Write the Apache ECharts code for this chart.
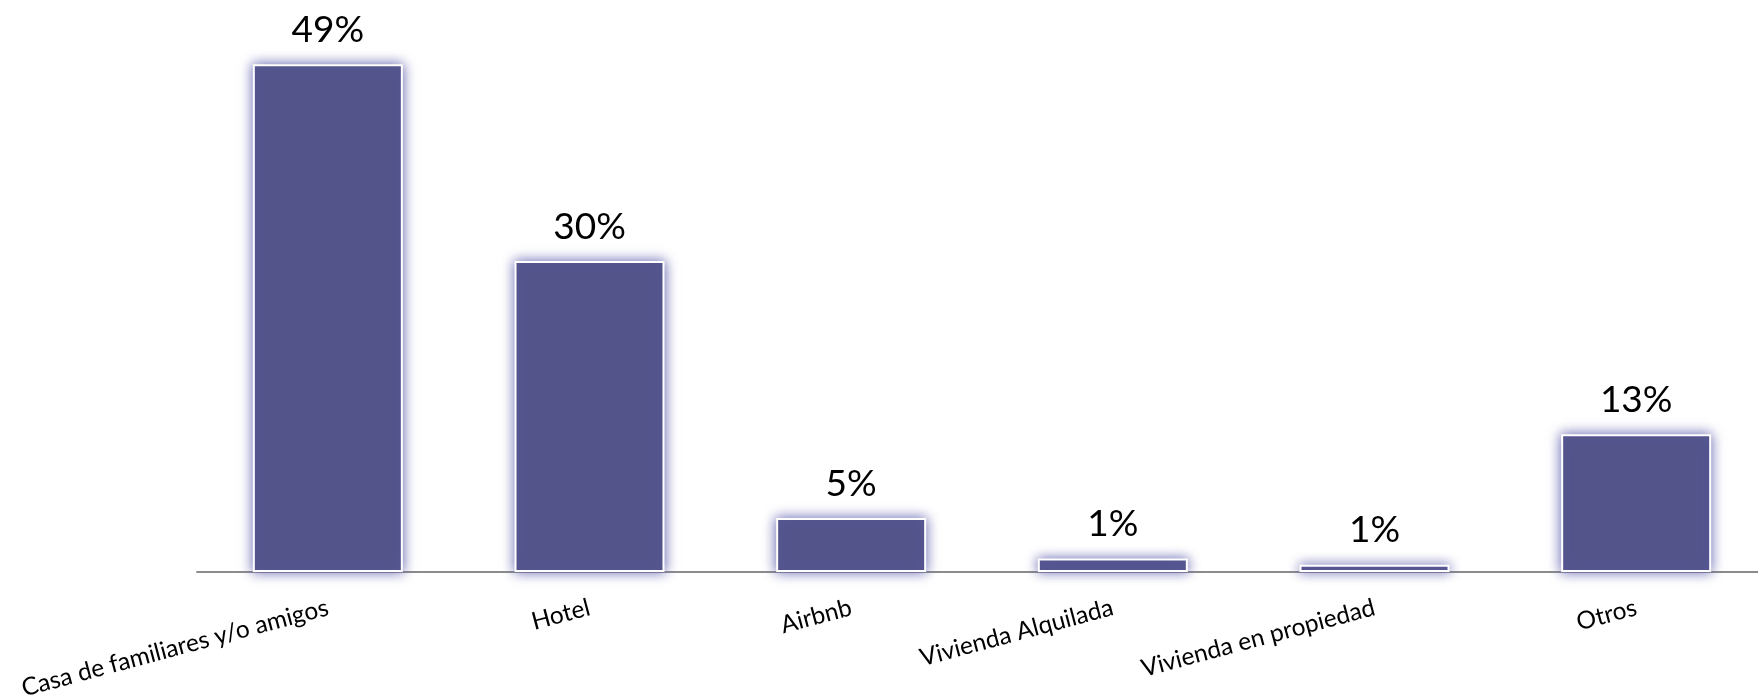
<!DOCTYPE html>
<html>
<head>
<meta charset="utf-8">
<script src="https://cdn.jsdelivr.net/npm/echarts@6/dist/echarts.min.js"></script>
<style>
html,body{margin:0;padding:0;background:#fff;}
#chart{width:1758px;height:696px;}
</style>
</head>
<body>
<div id="chart"></div>
<script>
const categories = ["Casa de familiares y/o amigos", "Hotel", "Airbnb", "Vivienda Alquilada", "Vivienda en propiedad", "Otros"];
const values = [49, 30, 5.2, 1.3, 0.7, 13.3];
const labels = ["49%", "30%", "5%", "1%", "1%", "13%"];

const chart = echarts.init(document.getElementById('chart'), null, {renderer: 'canvas'});
chart.setOption({
  animation: false,
  backgroundColor: '#ffffff',
  grid: {left: 197, width: 1570, top: 2, bottom: 124, containLabel: false, outerBoundsMode: 'none'},
  xAxis: {
    type: 'category',
    data: categories,
    axisLine: {show: true, lineStyle: {color: '#8c8c8c', width: 2}},
    axisTick: {show: false},
    axisLabel: {
      interval: 0,
      rotate: 15,
      margin: 35,
      color: '#000',
      fontFamily: 'Lato',
      fontSize: 24.5
    }
  },
  yAxis: {
    type: 'value',
    min: 0,
    max: 55,
    show: false,
    splitLine: {show: false}
  },
  series: [{
    type: 'bar',
    data: values,
    barWidth: 150,
    itemStyle: {
      color: '#53548a',
      borderColor: '#ffffff',
      borderWidth: 2,
      shadowBlur: 12,
      shadowColor: 'rgba(95,95,175,0.95)'
    },
    label: {
      show: true,
      position: 'top',
      distance: 16,
      color: '#000',
      fontFamily: 'Lato',
      fontSize: 37,
      formatter: function (p) { return labels[p.dataIndex]; }
    }
  }]
});
</script>
</body>
</html>
